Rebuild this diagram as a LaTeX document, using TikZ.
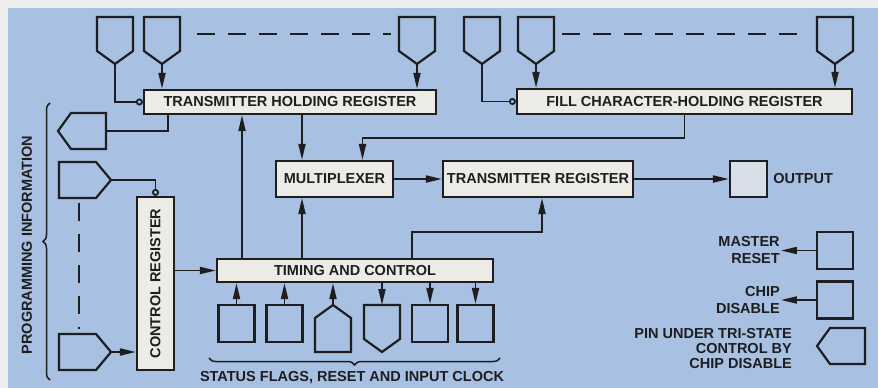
\documentclass[tikz,border=0pt]{standalone}
\usepackage{fontspec}
\setmainfont{Liberation Sans}
\usepackage{graphicx}
\usetikzlibrary{arrows.meta,positioning,decorations.pathreplacing,calc}
\definecolor{cPaper}{RGB}{238,238,236}
\definecolor{cBack}{RGB}{168,192,225}
\definecolor{cBox}{RGB}{236,235,229}
\definecolor{cOut}{RGB}{214,222,232}
\definecolor{cInk}{RGB}{30,30,32}
\tikzset{
  basebox/.style={rectangle,draw=cInk,line width=2.2pt,inner sep=0pt,
                  align=center,text=cInk,font=\fontsize{14.5}{17}\selectfont\bfseries},
  regnode/.style={basebox,fill=cBox},
  sqnode/.style={basebox,minimum width=36pt,minimum height=37pt},
  lbl/.style={inner sep=1pt,text=cInk,align=right,
              font=\fontsize{14.5}{17}\selectfont\bfseries},
  wire/.style={line width=1.8pt,draw=cInk},
  arr/.style={wire,-{Triangle[length=16pt,width=7pt]}},
  invarr/.style={wire,-{Circle[open,length=7pt,width=7pt]}},
  dashline/.style={wire,dash pattern=on 18pt off 13pt},
  brc/.style={wire,line width=1.5pt,decorate,decoration={brace,amplitude=7pt}},
  pinline/.style={line width=2.2pt,draw=cInk,line join=miter},
  pics/pindown/.style={code={
    \draw[pinline] (-18,-47) -- (18,-47) -- (18,-13) -- (0,0) -- (-18,-13) -- cycle;
    \coordinate (-tip) at (0,0);
    \coordinate (-top) at (0,-47);
    \coordinate (-e) at (18,-30);
    \coordinate (-w) at (-18,-30);
  }},
  pics/pinup/.style={code={
    \draw[pinline] (0,0) -- (18,13) -- (18,47) -- (-18,47) -- (-18,13) -- cycle;
    \coordinate (-tip) at (0,0);
  }},
  pics/pinright/.style={code={
    \draw[pinline] (0,0) -- (-15,-18) -- (-52,-18) -- (-52,18) -- (-15,18) -- cycle;
    \coordinate (-tip) at (0,0);
    \coordinate (-n) at (-32,-18);
    \coordinate (-s) at (-32,18);
  }},
  pics/pinleft/.style={code={
    \draw[pinline] (0,0) -- (13,-18) -- (48,-18) -- (48,18) -- (13,18) -- cycle;
    \coordinate (-tip) at (0,0);
    \coordinate (-end) at (48,0);
  }}
}
\begin{document}
\begin{tikzpicture}[x=1pt,y=-1pt]
  \useasboundingbox (0,0) rectangle (878,388);
  \fill[cPaper] (0,0) rectangle (878,388);
  \fill[cBack] (8,8) rectangle (878,388);

  % registers
  \node[regnode,minimum width=292pt,minimum height=24pt] (thr) at (290,102)
      {TRANSMITTER HOLDING REGISTER};
  \node[regnode,minimum width=335pt,minimum height=25pt] (fchr) at (684.5,101.5)
      {FILL CHARACTER-HOLDING REGISTER};
  \node[regnode,minimum width=117pt,minimum height=36pt] (mux) at (334.5,179)
      {MULTIPLEXER};
  \node[regnode,minimum width=190pt,minimum height=36pt] (tr) at (538,179)
      {TRANSMITTER REGISTER};
  \node[basebox,fill=cOut,minimum width=37pt,minimum height=36pt] (out) at (748.5,179) {};
  \node[lbl,right=4pt of out] (outlab) {OUTPUT};
  \node[regnode,minimum width=276pt,minimum height=23pt] (tc) at (355,270.5)
      {TIMING AND CONTROL};
  \node[regnode,minimum width=37pt,minimum height=173pt] (cr) at (155.5,283.5)
      {\rotatebox{90}{CONTROL REGISTER}};

  % pins on top
  \pic (p1) at (115,64) {pindown};
  \pic (p2) at (162,64) {pindown};
  \pic (p3) at (417,64) {pindown};
  \pic (p4) at (482,64) {pindown};
  \pic (p5) at (536,64) {pindown};
  \pic (p6) at (835,64) {pindown};
  \draw[dashline] ([xshift=17pt]p2-e) -- ([xshift=-8pt]p3-w);
  \draw[dashline] ([xshift=8pt]p5-e) -- ([xshift=-10pt]p6-w);

  \draw[invarr] (p1-tip) |- (thr.west);
  \draw[arr] (p2-tip) -- (p2-tip |- thr.north);
  \draw[arr] (p3-tip) -- (p3-tip |- thr.north);
  \draw[invarr] (p4-tip) |- (fchr.west);
  \draw[arr] (p5-tip) -- (p5-tip |- fchr.north);
  \draw[arr] (p6-tip) -- (p6-tip |- fchr.north);

  % programming pins
  \pic (po) at (58,131) {pinleft};
  \pic (l1) at (111,180) {pinright};
  \pic (l2) at (111,352) {pinright};
  \draw[dashline] ([yshift=-5pt]l1-s) -- ([yshift=5pt]l2-n);
  \draw[wire] ([xshift=-122pt]thr.south) |- (po-end);
  \draw[invarr] (l1-tip) -| (cr.north);
  \draw[arr] (l2-tip) -- (l2-tip -| cr.west);
  \draw[brc] (50,380) -- (50,103);
  \node[lbl,rotate=90] (proglab) at (27,245) {PROGRAMMING INFORMATION};

  % data path
  \draw[arr] ([xshift=12pt]thr.south) -- ([xshift=12pt]thr.south |- mux.north);
  \draw[arr] (fchr.south) -- ++(0,23) -| ([xshift=28pt]mux.north);
  \draw[arr] (mux.east) -- (tr.west);
  \draw[arr] (tr.east) -- (out.west);

  % timing and control
  \draw[arr] (cr.east |- tc.west) -- (tc.west);
  \draw[arr] ([xshift=-113pt]tc.north) -- ([xshift=-113pt]tc.north |- thr.south);
  \draw[arr] ([xshift=-53pt]tc.north) -- ([xshift=-53pt]tc.north |- mux.south);
  \draw[arr] ([xshift=57pt]tc.north) -- ++(0,-26) -| ([xshift=4pt]tr.south);

  % status pins
  \node[sqnode] (b1) at (236.5,323.5) {};
  \node[sqnode] (b2) at (284.5,323.5) {};
  \pic (b3) at (333,305) {pinup};
  \pic (b4) at (382,352) {pindown};
  \node[sqnode] (b5) at (430,323.5) {};
  \node[sqnode] (b6) at (475.5,323.5) {};
  \draw[arr] (b1.north) -- (b1.north |- tc.south);
  \draw[arr] (b2.north) -- (b2.north |- tc.south);
  \draw[arr] (b3-tip) -- (b3-tip |- tc.south);
  \draw[arr] (b4-top |- tc.south) -- (b4-top);
  \draw[arr] (b5.north |- tc.south) -- (b5.north);
  \draw[arr] (b6.north |- tc.south) -- (b6.north);
  \draw[brc] (500,358) -- (209,358);
  \node[lbl] (statlab) at (352,378) {STATUS FLAGS, RESET AND INPUT CLOCK};

  % legend
  \node[sqnode] (mreset) at (835,250.5) {};
  \node[lbl,left=35pt of mreset] (mrlab) {MASTER\\RESET};
  \draw[arr] (mreset.west) -- (mrlab.east);
  \node[sqnode] (cdis) at (835,300) {};
  \node[lbl,left=35pt of cdis] (cdlab) {CHIP\\DISABLE};
  \draw[arr] (cdis.west) -- (cdlab.east);
  \pic (tsp) at (817,346) {pinleft};
  \node[lbl,anchor=east,font=\fontsize{14.5}{15}\selectfont\bfseries] (tslab) at (793,349)
      {PIN UNDER TRI-STATE\\CONTROL BY\\CHIP DISABLE};
\end{tikzpicture}
\end{document}
